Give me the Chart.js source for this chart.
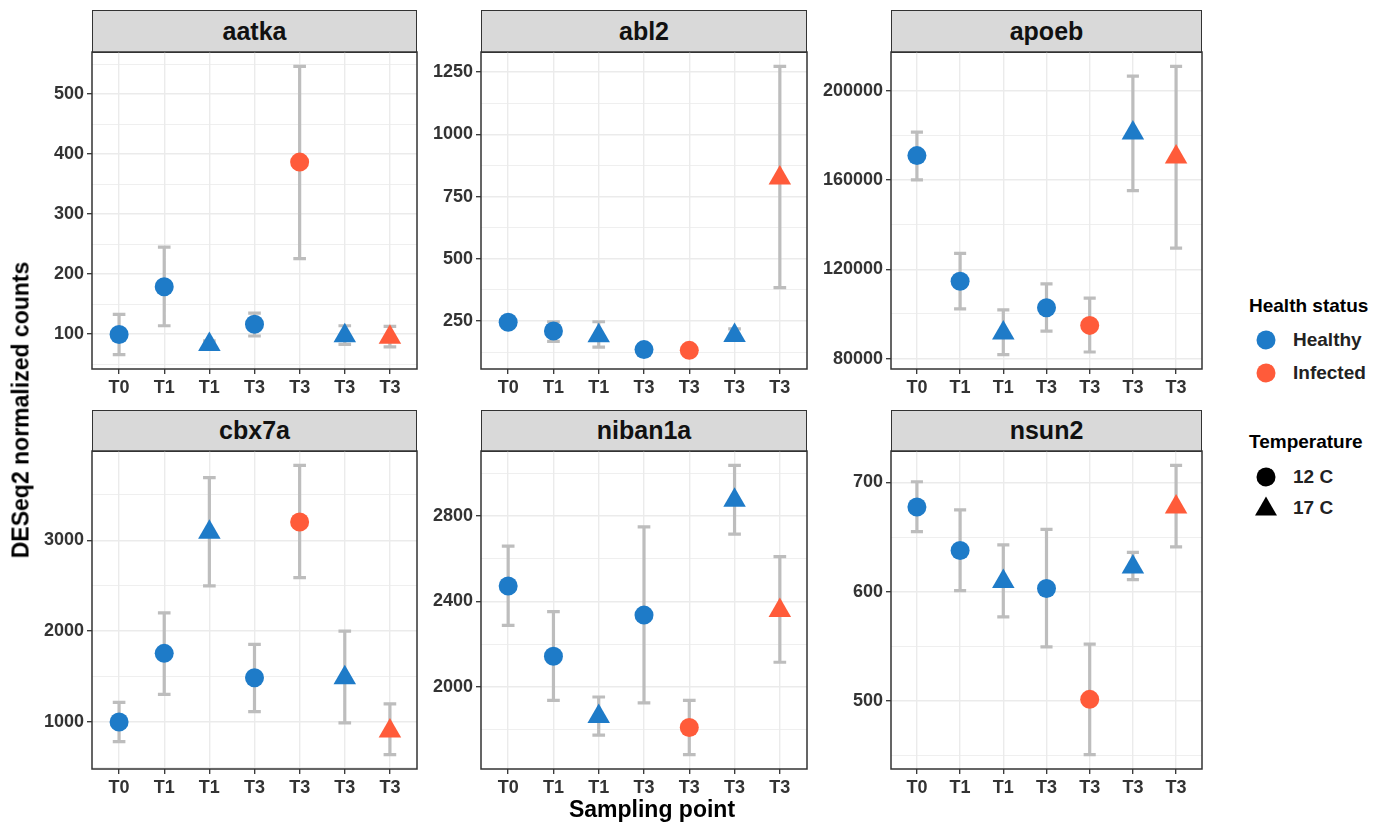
<!DOCTYPE html>
<html>
<head>
<meta charset="utf-8">
<title>DESeq2 normalized counts</title>
<script src="https://cdn.jsdelivr.net/npm/chart.js@4.4.0/dist/chart.umd.min.js"></script>
<style>
    body {
        margin: 0;
        width: 1384px;
        height: 824px;
        position: relative;
        overflow: hidden;
        background: #fff;
        font-family: "Liberation Sans", Arial, sans-serif;
        color: #000;
    }
    .strip {
        position: absolute;
        box-sizing: border-box;
        background: #D9D9D9;
        border: 1.5px solid #333;
        text-align: center;
        font-weight: bold;
        font-size: 25px;
        color: #111;
    }
    canvas { position: absolute; }
    .axis-title {
        position: absolute;
        font-weight: bold;
        font-size: 23px;
        white-space: nowrap;
        transform: translate(-50%, -50%);
    }
    .legend-title, .legend-label {
        position: absolute;
        font-weight: bold;
        font-size: 19px;
        white-space: nowrap;
        transform: translateY(-50%);
    }
    .legend-label { color: #222; }
    .key-dot {
        position: absolute;
        width: 19px;
        height: 19px;
        border-radius: 50%;
        transform: translate(-50%, -50%);
    }
    .key-tri {
        position: absolute;
        width: 0;
        height: 0;
        border-left: 11px solid transparent;
        border-right: 11px solid transparent;
        border-bottom: 19px solid #000;
        transform: translate(-50%, -60%);
    }
</style>
</head>
<body>

<script>
// Categories shared by every panel
const sampling = ['T0', 'T1', 'T1', 'T3', 'T3', 'T3', 'T3'];
const health = ['Healthy', 'Healthy', 'Healthy', 'Healthy', 'Infected', 'Healthy', 'Infected'];
const temperature = ['12 C', '12 C', '17 C', '12 C', '12 C', '17 C', '17 C'];
const genes = ['aatka', 'abl2', 'apoeb', 'cbx7a', 'niban1a', 'nsun2'];

// Mean counts and error bar limits per gene
const aatkaMean = [99.5, 179, 83, 116.6, 386.6, 97.3, 95];
const aatkaLow  = [66, 114, 78, 97, 226, 83, 79];
const aatkaHigh = [133, 245, 89, 135, 546, 114, 113];

const abl2Mean = [245, 210, 191, 135, 132, 192, 825];
const abl2Low  = [225, 168, 145, 115, 118, 183, 384];
const abl2High = [265, 247, 247, 155, 146, 218, 1273];

const apoebMean = [170900, 114650, 91450, 102750, 94870, 181000, 170300];
const apoebLow  = [160000, 102300, 81800, 92340, 82970, 155240, 129500];
const apoebHigh = [181400, 127140, 101860, 113460, 107060, 206540, 210850];

const cbx7aMean = [1000, 1755, 3088, 1487, 3201, 1487, 901];
const cbx7aLow  = [784, 1304, 2498, 1114, 2590, 989, 641];
const cbx7aHigh = [1216, 2201, 3689, 1853, 3824, 2000, 1198];

const niban1aMean = [2473, 2143, 1860, 2336, 1809, 2875, 2358];
const niban1aLow  = [2288, 1936, 1773, 1924, 1682, 2716, 2115];
const niban1aHigh = [2660, 2352, 1952, 2750, 1936, 3038, 2610];

const nsun2Mean = [677.5, 637.7, 609.4, 603, 501.5, 622.5, 677.5];
const nsun2Low  = [655, 601, 577, 549.5, 451, 611, 641];
const nsun2High = [700.6, 674.8, 642.9, 657, 552, 636, 715.5];

// Major y tick labels per gene
const aatkaTicks = [100, 200, 300, 400, 500];
const abl2Ticks = [250, 500, 750, 1000, 1250];
const apoebTicks = [80000, 120000, 160000, 200000];
const cbx7aTicks = [1000, 2000, 3000];
const niban1aTicks = [2000, 2400, 2800];
const nsun2Ticks = [500, 600, 700];
</script>

<script>
Chart.defaults.font.family = '"Liberation Sans", Arial, sans-serif';

const panels = [
    { mean: aatkaMean, low: aatkaLow, high: aatkaHigh, ticks: aatkaTicks },
    { mean: abl2Mean, low: abl2Low, high: abl2High, ticks: abl2Ticks },
    { mean: apoebMean, low: apoebLow, high: apoebHigh, ticks: apoebTicks },
    { mean: cbx7aMean, low: cbx7aLow, high: cbx7aHigh, ticks: cbx7aTicks },
    { mean: niban1aMean, low: niban1aLow, high: niban1aHigh, ticks: niban1aTicks },
    { mean: nsun2Mean, low: nsun2Low, high: nsun2High, ticks: nsun2Ticks }
];

const colors = { 'Healthy': '#1E7BC8', 'Infected': '#FF5B3A' };

// Layout of the facet grid (page pixels)
const plotLeft = [92, 481, 891];
const plotRight = [417, 807, 1202];
const stripTop = [10, 410];
const plotTop = [52, 451];
const plotBottom = [369, 769];
const AXIS_W = 70;
const AXIS_H = 40;
const CAP = 0.14;

// Frame around the panel like theme_bw
const panelBorder = {
    id: 'panelBorder',
    afterDraw(chart) {
        const a = chart.chartArea;
        const ctx = chart.ctx;
        ctx.save();
        ctx.strokeStyle = '#333';
        ctx.lineWidth = 1.5;
        ctx.strokeRect(a.left, a.top, a.right - a.left, a.bottom - a.top);
        ctx.restore();
    }
};

function drawPanel(idx) {
    const p = panels[idx];
    const col = idx % 3;
    const row = Math.floor(idx / 3);

    // Strip with the gene name
    const strip = document.createElement('div');
    strip.className = 'strip';
    strip.textContent = genes[idx];
    strip.style.left = plotLeft[col] + 'px';
    strip.style.top = stripTop[row] + 'px';
    strip.style.width = (plotRight[col] - plotLeft[col]) + 'px';
    const sh = plotTop[row] - stripTop[row] + 1;
    strip.style.height = sh + 'px';
    strip.style.lineHeight = (sh - 3) + 'px';
    document.body.appendChild(strip);

    const canvas = document.createElement('canvas');
    const w = plotRight[col] - plotLeft[col] + AXIS_W + 3;
    const h = plotBottom[row] - plotTop[row] + AXIS_H + 2;
    canvas.width = w;
    canvas.height = h;
    canvas.style.width = w + 'px';
    canvas.style.height = h + 'px';
    canvas.style.left = (plotLeft[col] - AXIS_W) + 'px';
    canvas.style.top = (plotTop[row] - 2) + 'px';
    document.body.appendChild(canvas);

    // y range with 5% expansion like ggplot
    const lo = Math.min(...p.low);
    const hi = Math.max(...p.high);
    const yMin = lo - (hi - lo) * 0.05;
    const yMax = hi + (hi - lo) * 0.05;

    // minor breaks halfway between majors
    const step = p.ticks[1] - p.ticks[0];
    const allTicks = [];
    for (let v = p.ticks[0] - step; v <= yMax + step; v += step / 2) {
        if (v >= yMin && v <= yMax) allTicks.push(v);
    }
    const isMajor = v => p.ticks.includes(v);

    // error bars: vertical segment plus two caps, separated by gaps
    const bars = [];
    p.mean.forEach((m, i) => {
        bars.push({ x: i, y: p.low[i] }, { x: i, y: p.high[i] }, { x: i, y: null });
        bars.push({ x: i - CAP, y: p.high[i] }, { x: i + CAP, y: p.high[i] }, { x: i, y: null });
        bars.push({ x: i - CAP, y: p.low[i] }, { x: i + CAP, y: p.low[i] }, { x: i, y: null });
    });

    const tickFont = { size: 18, weight: 'bold' };

    new Chart(canvas, {
        type: 'scatter',
        data: {
            datasets: [
                {
                    type: 'line',
                    data: bars,
                    borderColor: '#BDBDBD',
                    borderWidth: 3.2,
                    pointRadius: 0,
                    spanGaps: false,
                    fill: false,
                    order: 1
                },
                {
                    data: p.mean.map((m, i) => ({ x: i, y: m })),
                    pointStyle: temperature.map(t => t === '12 C' ? 'circle' : 'triangle'),
                    pointRadius: temperature.map(t => t === '12 C' ? 9.5 : 13),
                    pointBackgroundColor: health.map(s => colors[s]),
                    pointBorderColor: health.map(s => colors[s]),
                    pointBorderWidth: 0,
                    order: 0
                }
            ]
        },
        options: {
            responsive: false,
            maintainAspectRatio: false,
            animation: false,
            events: [],
            layout: {
                autoPadding: false,
                padding: { top: 2, right: 3, left: 0, bottom: 0 }
            },
            plugins: {
                legend: { display: false },
                tooltip: { enabled: false }
            },
            scales: {
                x: {
                    type: 'linear',
                    min: -0.6,
                    max: 6.6,
                    afterBuildTicks: axis => {
                        axis.ticks = sampling.map((s, i) => ({ value: i }));
                    },
                    afterFit: scale => {
                        scale.height = AXIS_H;
                        scale.paddingLeft = 0;
                        scale.paddingRight = 0;
                    },
                    ticks: {
                        callback: v => sampling[v],
                        autoSkip: false,
                        maxRotation: 0,
                        padding: 3,
                        color: '#333',
                        font: tickFont
                    },
                    grid: {
                        color: '#EBEBEB',
                        lineWidth: 1.4,
                        tickColor: '#333',
                        tickLength: 5,
                        tickWidth: 1.3
                    },
                    border: { display: false }
                },
                y: {
                    type: 'linear',
                    min: yMin,
                    max: yMax,
                    afterBuildTicks: axis => {
                        axis.ticks = allTicks.map(v => ({ value: v }));
                    },
                    afterFit: scale => {
                        scale.width = AXIS_W;
                        scale.paddingTop = 0;
                        scale.paddingBottom = 0;
                    },
                    ticks: {
                        callback: v => isMajor(v) ? String(v) : '',
                        autoSkip: false,
                        padding: 3,
                        color: '#333',
                        font: tickFont
                    },
                    grid: {
                        color: '#EBEBEB',
                        lineWidth: ctx => isMajor(ctx.tick.value) ? 1.4 : 0.8,
                        tickColor: ctx => isMajor(ctx.tick.value) ? '#333' : 'rgba(0,0,0,0)',
                        tickLength: 5,
                        tickWidth: 1.3
                    },
                    border: { display: false }
                }
            }
        },
        plugins: [panelBorder]
    });
}

genes.forEach((g, i) => drawPanel(i));

// Axis titles
function addText(cls, text, x, y, extra) {
    const el = document.createElement('div');
    el.className = cls;
    el.textContent = text;
    el.style.left = x + 'px';
    el.style.top = y + 'px';
    if (extra) el.style.transform = extra;
    document.body.appendChild(el);
    return el;
}
addText('axis-title', 'Sampling point', 652, 809);
addText('axis-title', 'DESeq2 normalized counts', 21, 410, 'translate(-50%, -50%) rotate(-90deg)');

// Legend
addText('legend-title', 'Health status', 1249, 306);
['Healthy', 'Infected'].forEach((s, i) => {
    const y = 340 + i * 33;
    const dot = document.createElement('div');
    dot.className = 'key-dot';
    dot.style.left = '1266px';
    dot.style.top = y + 'px';
    dot.style.background = colors[s];
    document.body.appendChild(dot);
    addText('legend-label', s, 1293, y);
});

addText('legend-title', 'Temperature', 1249, 442);
['12 C', '17 C'].forEach((t, i) => {
    const y = 477 + i * 31;
    const key = document.createElement('div');
    if (t === '12 C') {
        key.className = 'key-dot';
        key.style.background = '#000';
    } else {
        key.className = 'key-tri';
    }
    key.style.left = '1266px';
    key.style.top = y + 'px';
    document.body.appendChild(key);
    addText('legend-label', t, 1293, y);
});
</script>
</body>
</html>
